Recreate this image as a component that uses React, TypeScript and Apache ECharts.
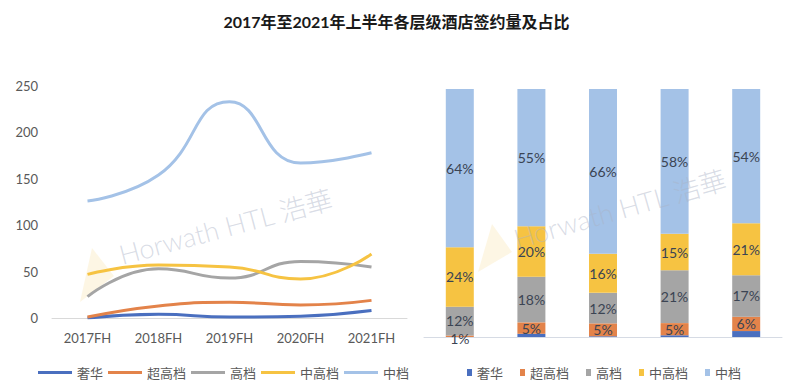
import React, { useEffect, useRef } from "react";
import * as echarts from "echarts";

const categories = ["2017FH", "2018FH", "2019FH", "2020FH", "2021FH"];
const seriesNames = ["奢华", "超高档", "高档", "中高档", "中档"];
const colors = ["#4a6fbf", "#e3834a", "#a5a5a5", "#f6c342", "#a4c2e7"];

// signed counts (left chart)
const luxury = [0, 4, 1, 2, 8];
const upperUpscale = [1, 13, 17, 14, 19];
const upscale = [23, 53, 43, 61, 55];
const upperMidscale = [47, 57, 55, 42, 69];
const midscale = [126, 154, 233, 167, 178];

// shares in % (right chart)
const luxuryShare = [0, 1.3, 0.3, 0.7, 2.4];
const upperUpscaleShare = [0.6, 4.6, 5.2, 4.9, 5.8];
const upscaleShare = [11.6, 18.4, 12.3, 21.3, 16.7];
const upperMidscaleShare = [24.0, 20.4, 15.8, 14.7, 21.0];
const midscaleShare = [63.8, 55.3, 66.4, 58.4, 54.1];

const yTicks = [0, 50, 100, 150, 200, 250];

const FONT = "Lato, 'Noto Sans CJK SC', sans-serif";

export default function App() {
  const ref = useRef<HTMLDivElement>(null);

  useEffect(() => {
    if (!ref.current) return;
    const chart = echarts.init(ref.current, undefined, { renderer: "svg" });
    const counts = [luxury, upperUpscale, upscale, upperMidscale, midscale];
    const shares = [luxuryShare, upperUpscaleShare, upscaleShare, upperMidscaleShare, midscaleShare];

    const lineSeries = seriesNames.map((name, i) => ({
      name,
      type: "line",
      xAxisIndex: 0,
      yAxisIndex: 0,
      data: counts[i],
      smooth: 0.5,
      showSymbol: false,
      symbol: "none",
      lineStyle: { width: 3, color: colors[i] },
      itemStyle: { color: colors[i] },
      z: 2 + i,
    }));

    const barSeries = seriesNames.map((name, i) => ({
      name,
      type: "bar",
      xAxisIndex: 1,
      yAxisIndex: 1,
      stack: "share",
      data: shares[i].map((v, j) => {
        // small nudge for the crowded bottom of the first bar
        if (j === 0 && i === 1) return { value: v, label: { offset: [0, 2] } };
        if (j === 0 && i === 2) return { value: v, label: { offset: [0, -1] } };
        return v;
      }),
      barWidth: 28,
      itemStyle: { color: colors[i] },
      label: {
        show: i > 0,
        position: "inside",
        color: "#3b4453",
        fontSize: 14,
        fontFamily: FONT,
        formatter: (p: any) => Math.round(p.value) + "%",
      },
    }));

    const logo = (pts: number[][]) => ({
      type: "polygon",
      silent: true,
      z: 0,
      shape: { points: pts },
      style: { fill: "rgba(246,214,130,0.22)" },
    });

    chart.setOption({
      animation: false,
      backgroundColor: "#ffffff",
      title: {
        text: "2017年至2021年上半年各层级酒店签约量及占比",
        left: "center",
        top: 8,
        textStyle: {
          fontSize: 16,
          fontWeight: "bold",
          color: "#1a1a1a",
          fontFamily: FONT,
        },
      },
      grid: [
        { left: 52, right: 386, top: 86, bottom: 71 },
        { left: 424, right: 11, top: 89, bottom: 52 },
      ],
      xAxis: [
        {
          type: "category",
          gridIndex: 0,
          data: categories,
          boundaryGap: true,
          axisLine: { show: true, lineStyle: { color: "#d9d9d9", width: 1 } },
          axisTick: { show: false },
          axisLabel: { color: "#595959", fontSize: 13, fontFamily: FONT, margin: 13 },
        },
        {
          type: "category",
          gridIndex: 1,
          data: categories,
          axisLine: { show: true, lineStyle: { color: "#d6dbe4", width: 1 } },
          axisTick: { show: false },
          axisLabel: { show: false },
        },
      ],
      yAxis: [
        {
          type: "value",
          gridIndex: 0,
          min: yTicks[0],
          max: yTicks[yTicks.length - 1],
          interval: 50,
          axisLine: { show: false },
          axisTick: { show: false },
          splitLine: { show: false },
          axisLabel: { color: "#595959", fontSize: 13, fontFamily: FONT, margin: 14 },
        },
        {
          type: "value",
          gridIndex: 1,
          min: 0,
          max: 100,
          show: false,
          splitLine: { show: false },
        },
      ],
      legend: [
        {
          data: seriesNames,
          left: 33,
          top: 361,
          icon: "rect",
          itemWidth: 34,
          itemHeight: 3,
          itemGap: 5,
          itemTextGap: 2,
          selectedMode: false,
          textStyle: { color: "#595959", fontSize: 13, fontFamily: FONT },
        },
        {
          data: seriesNames,
          left: 462,
          top: 361,
          icon: "rect",
          itemWidth: 5,
          itemHeight: 7,
          itemGap: 17,
          itemTextGap: 3,
          selectedMode: false,
          textStyle: { color: "#595959", fontSize: 13, fontFamily: FONT },
        },
      ],
      graphic: [
        logo([[92, 248], [80, 302], [114, 276]]),
        logo([[492, 224], [478, 272], [512, 252]]),
        {
          type: "text",
          x: 123,
          y: 268,
          rotation: (15 * Math.PI) / 180,
          silent: true,
          z: 0,
          style: {
            text: "Horwath HTL 浩華",
            fill: "rgba(170,178,198,0.45)",
            font: "300 27px Lato, 'Noto Sans CJK SC', sans-serif",
            textAlign: "left",
            textVerticalAlign: "bottom",
          },
        },
        {
          type: "text",
          x: 518,
          y: 252,
          rotation: (16 * Math.PI) / 180,
          silent: true,
          z: 100,
          style: {
            text: "Horwath HTL 浩華",
            fill: "rgba(170,178,198,0.45)",
            font: "300 27px Lato, 'Noto Sans CJK SC', sans-serif",
            textAlign: "left",
            textVerticalAlign: "bottom",
          },
        },
      ],
      series: [...lineSeries, ...barSeries],
    });

    return () => chart.dispose();
  }, []);

  return (
    <div
      ref={ref}
      style={{ position: "fixed", left: 0, top: 0, width: 793, height: 389 }}
    />
  );
}
